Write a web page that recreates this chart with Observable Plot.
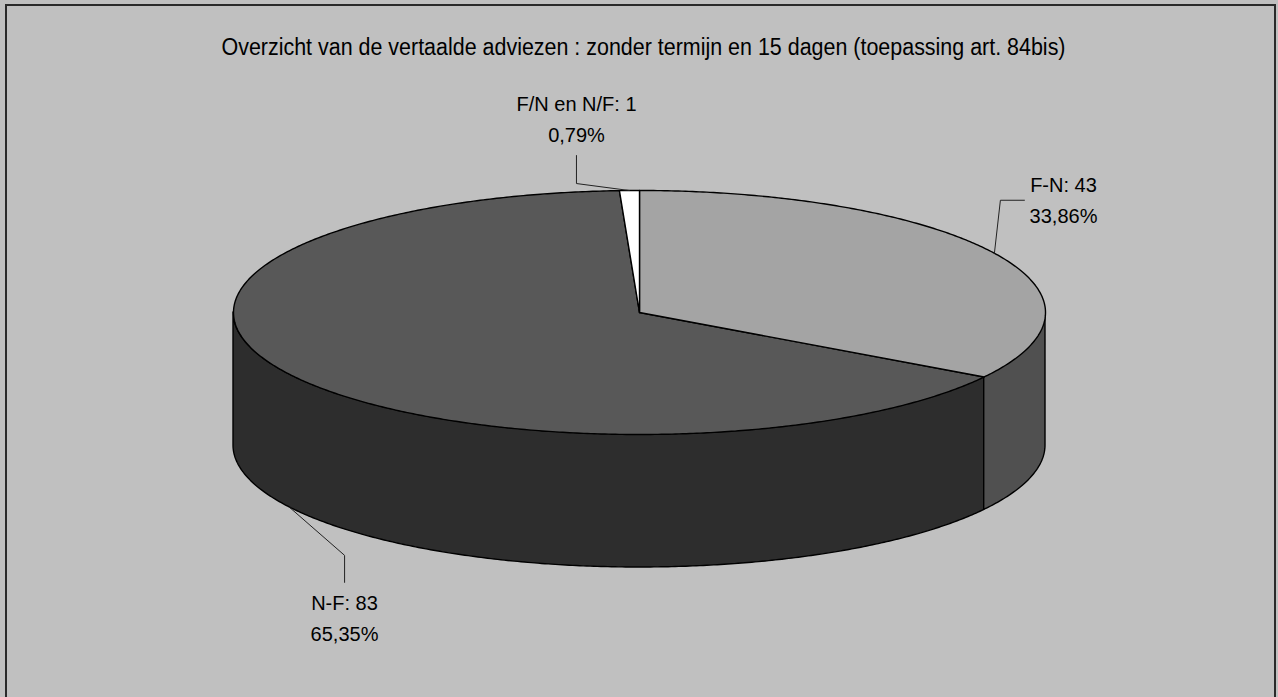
<!DOCTYPE html>
<html><head><meta charset="utf-8">
<script src="https://cdn.jsdelivr.net/npm/d3@7"></script>
<script src="https://cdn.jsdelivr.net/npm/@observablehq/plot@0.6"></script>
<style>
html,body{margin:0;padding:0;background:#c0c0c0;overflow:hidden;width:1278px;height:697px}
#chart{position:absolute;left:0;top:0}
#frame{position:absolute;left:5px;top:4px;width:1271px;height:760px;border:2px solid #2a2a2a;box-sizing:border-box;pointer-events:none}
</style></head><body>
<div id="chart"></div><div id="frame"></div>
<script>
// ---- data ----
const title = "Overzicht van de vertaalde adviezen : zonder termijn en 15 dagen (toepassing art. 84bis)";
const categories = ["F-N", "N-F", "F/N en N/F"];
const counts = [43, 83, 1];
const percentLabels = ["33,86%", "65,35%", "0,79%"];

// ---- styles / layout ----
const topColors = {"F-N": "#a4a4a4", "N-F": "#585858", "F/N en N/F": "#ffffff"};
const wallColors = {"F-N": "#505050", "N-F": "#2d2d2d", "F/N en N/F": "#d8d8d8"};
const geom = {cx: 639, cy: 312, rx: 406, ry: 122, depth: 133};
const labelLayout = {
  "F-N":        {elbow: [6, -53],  end: [30, -53],  tx: 1063, ty: 191},
  "N-F":        {elbow: [55, 48],  end: [55, 75],   tx: 344,  ty: 609},
  "F/N en N/F": {elbow: [-53, -7], end: [-53, -35], tx: 576,  ty: 110}
};
const fontSize = 20, lineGap = 31;

// ---- geometry from data ----
const pie = d3.pie().sort(null).value(d => d.count)(categories.map((c, i) => ({name: c, count: counts[i], pct: percentLabels[i]})));
const pt = (t, dz = 0) => ({x: geom.cx + geom.rx * Math.sin(t), y: geom.cy - geom.ry * Math.cos(t) + dz});
const step = Math.PI / 360;
function arcPts(a0, a1, dz) {
  const out = [];
  for (let t = a0; t < a1; t += step) out.push(pt(t, dz));
  out.push(pt(a1, dz));
  return out;
}
const tops = [], walls = [], leaders = [], texts = [];
for (const a of pie) {
  const name = a.data.name;
  const c = {x: geom.cx, y: geom.cy};
  tops.push(...[c, ...arcPts(a.startAngle, a.endAngle, 0), c].map(p => ({...p, name})));
  const w0 = Math.max(a.startAngle, Math.PI / 2), w1 = Math.min(a.endAngle, 3 * Math.PI / 2);
  if (w1 > w0) {
    for (const p of arcPts(w0, w1, 0)) walls.push({name, x: p.x, y1: p.y, y2: p.y + geom.depth});
  }
  const mid = (a.startAngle + a.endAngle) / 2;
  const front = mid > Math.PI / 2 && mid < 3 * Math.PI / 2;
  const anchor = pt(mid, front ? geom.depth : 0);
  const L = labelLayout[name];
  leaders.push({name, x: anchor.x, y: anchor.y},
    {name, x: anchor.x + L.elbow[0], y: anchor.y + L.elbow[1]},
    {name, x: anchor.x + L.end[0], y: anchor.y + L.end[1]});
  texts.push({x: L.tx, y: L.ty - 0.32 * fontSize, text: `${name}: ${a.data.count}`});
  texts.push({x: L.tx, y: L.ty + lineGap - 0.32 * fontSize, text: a.data.pct});
}

const order = ["N-F", "F-N", "F/N en N/F"];
const chart = Plot.plot({
  width: 1278, height: 697, margin: 0,
  x: {domain: [0, 1278], range: [0, 1278], axis: null},
  y: {domain: [0, 697], range: [0, 697], axis: null},
  style: {background: "#c0c0c0", fontFamily: "'Liberation Sans', Arial, sans-serif"},
  marks: [
    ...order.map(n => Plot.areaY(walls.filter(d => d.name === n), {x: "x", y1: "y1", y2: "y2", fill: wallColors[n], stroke: "#000", strokeWidth: 1.4, strokeLinejoin: "round"})),
    ...order.map(n => Plot.line(tops.filter(d => d.name === n), {x: "x", y: "y", fill: topColors[n], stroke: "#000", strokeWidth: 1.4, strokeLinejoin: "round"})),
    Plot.line(leaders, {x: "x", y: "y", z: "name", stroke: "#222", strokeWidth: 1}),
    Plot.text(texts, {x: "x", y: "y", text: "text", fontSize, textAnchor: "middle", fill: "#000"}),
    Plot.text([title], {x: 643, y: 54 - 0.32 * 23, text: d => d, fontSize: 23, textAnchor: "middle", fill: "#000"})
  ]
});
document.getElementById("chart").appendChild(chart);
for (const t of chart.querySelectorAll("text")) {
  if (t.textContent === title) { t.setAttribute("textLength", 844); t.setAttribute("lengthAdjust", "spacingAndGlyphs"); }
}
</script>
</body></html>
